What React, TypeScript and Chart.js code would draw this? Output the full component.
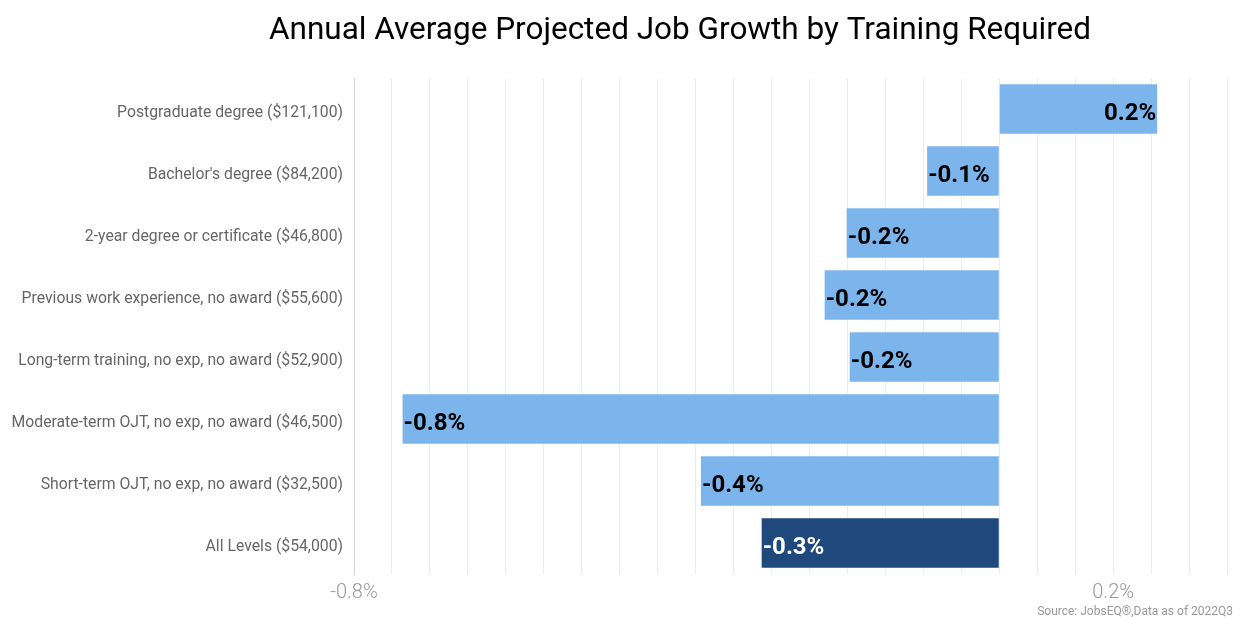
import React, { useEffect, useRef } from "react";
import { Chart, registerables } from "chart.js";

Chart.register(...registerables);

const categories = [
  "Postgraduate degree ($121,100)",
  "Bachelor's degree ($84,200)",
  "2-year degree or certificate ($46,800)",
  "Previous work experience, no award ($55,600)",
  "Long-term training, no exp, no award ($52,900)",
  "Moderate-term OJT, no exp, no award ($46,500)",
  "Short-term OJT, no exp, no award ($32,500)",
  "All Levels ($54,000)",
];

const growthValues = [0.208, -0.095, -0.201, -0.23, -0.197, -0.786, -0.393, -0.313];

const highlightCategory = "All Levels ($54,000)";

const xMin = -0.85;
const xMax = 0.3;
const xStep = 0.05;
const xTickValues = [-0.85, 0.15];
const xTickLabels = ["-0.8%", "0.2%"];

const titleText = "Annual Average Projected Job Growth by Training Required";
const sourceText = "Source: JobsEQ®,Data as of 2022Q3";

const LIGHT = "#7cb5ec";
const DARK = "#1f497d";

export default function App() {
  const ref = useRef<HTMLCanvasElement | null>(null);

  useEffect(() => {
    document.body.style.margin = "0";
    const canvas = ref.current;
    if (!canvas) return;

    const overlay = {
      id: "overlay",
      afterDatasetsDraw(chart: any) {
        const ctx = chart.ctx;
        const meta = chart.getDatasetMeta(0);
        ctx.save();
        ctx.font = "bold 24px Roboto";
        ctx.textBaseline = "alphabetic";
        meta.data.forEach((el: any, i: number) => {
          const v = growthValues[i];
          const txt = v.toFixed(1) + "%";
          ctx.fillStyle = categories[i] === highlightCategory ? "#ffffff" : "#000000";
          if (v < 0) {
            ctx.textAlign = "left";
            ctx.fillText(txt, el.x + 1, el.y + 11);
          } else {
            ctx.textAlign = "right";
            ctx.fillText(txt, el.x - 1, el.y + 11);
          }
        });
        ctx.restore();
      },
      afterDraw(chart: any) {
        const ctx = chart.ctx;
        ctx.save();
        ctx.fillStyle = "#000000";
        ctx.font = "31.5px Roboto";
        ctx.textAlign = "center";
        ctx.textBaseline = "alphabetic";
        ctx.fillText(titleText, 680, 39);
        ctx.fillStyle = "#999999";
        ctx.font = "12px Roboto";
        ctx.textAlign = "right";
        ctx.fillText(sourceText, 1233, 615);
        ctx.restore();
      },
    };

    const chart = new Chart(canvas, {
      type: "bar",
      data: {
        labels: categories,
        datasets: [
          {
            data: growthValues,
            backgroundColor: categories.map((c) => (c === highlightCategory ? DARK : LIGHT)),
            borderWidth: 0,
            barPercentage: 0.8,
            categoryPercentage: 1.0,
          },
        ],
      },
      options: {
        indexAxis: "y",
        animation: false,
        responsive: true,
        maintainAspectRatio: false,
        layout: { padding: { left: 0, right: 14, top: 78, bottom: 0 } },
        plugins: {
          legend: { display: false },
          title: { display: false },
          tooltip: { enabled: false },
        },
        scales: {
          x: {
            type: "linear",
            min: xMin,
            max: xMax,
            grid: { color: "#ececec", lineWidth: 1, drawTicks: false },
            border: { display: false },
            ticks: {
              stepSize: xStep,
              autoSkip: false,
              maxRotation: 0,
              padding: 7,
              color: "#999999",
              font: { family: "Roboto", size: 20, weight: "300" },
              callback: (value: any) => {
                const k = xTickValues.findIndex((t) => Math.abs(t - Number(value)) < 1e-6);
                return k >= 0 ? xTickLabels[k] : "";
              },
            },
            afterFit: (scale: any) => {
              scale.height = 43;
            },
          },
          y: {
            grid: { display: false, drawTicks: false },
            border: { display: true, color: "#ccd6eb", width: 1 },
            ticks: {
              padding: 11,
              labelOffset: 4,
              color: "#666666",
              font: { family: "Roboto", size: 15.75 },
            },
            afterFit: (scale: any) => {
              scale.width = 354;
            },
          },
        },
      },
      plugins: [overlay],
    });

    return () => chart.destroy();
  }, []);

  return (
    <div style={{ width: 1241, height: 617, position: "relative" }}>
      <canvas ref={ref} />
    </div>
  );
}
